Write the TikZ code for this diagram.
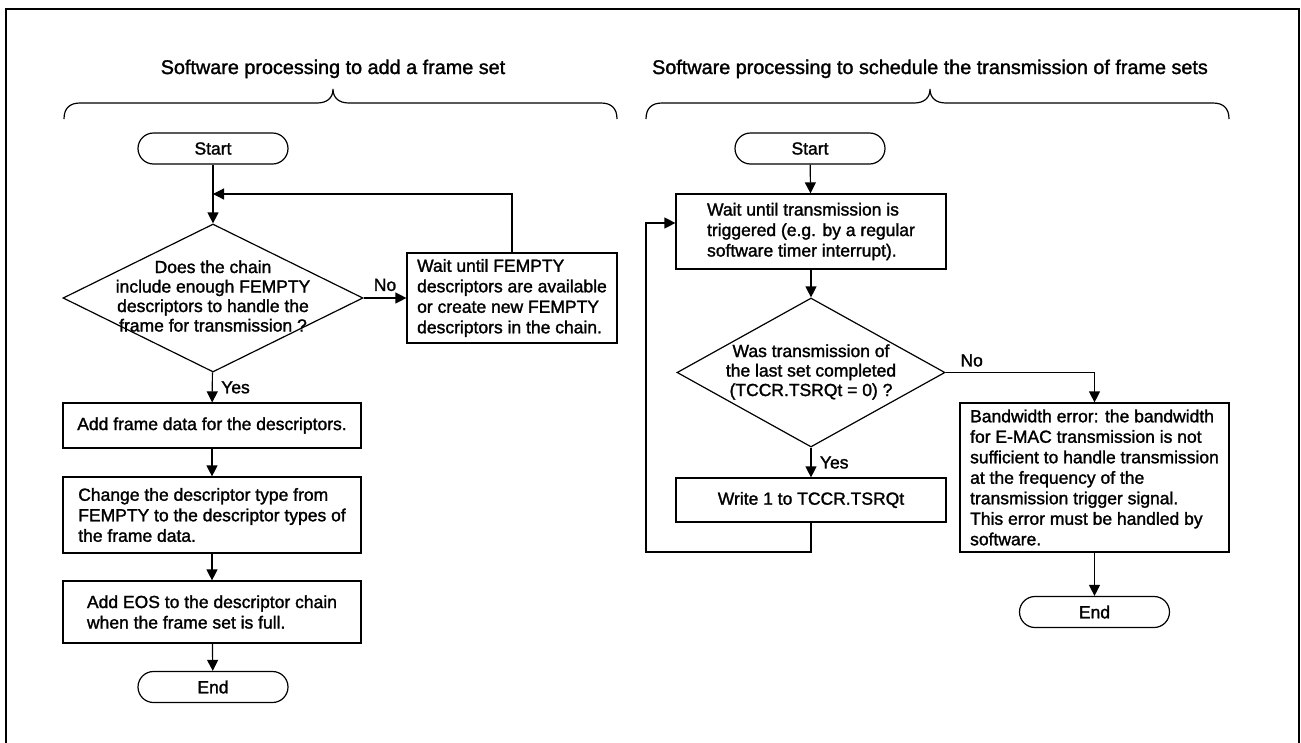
\documentclass[tikz,border=0pt]{standalone}
\usepackage{fontspec}
\setmainfont{Liberation Sans}[FakeBold=1.5]
\usetikzlibrary{arrows.meta,shapes.geometric}

\begin{document}
\begin{tikzpicture}[
    x=1pt, y=-1pt,
    font=\fontsize{17.5}{20.5}\selectfont,
    line width=1.2pt,
    arr/.style={-{Triangle[length=11pt,width=11pt]}},
    title/.style={font=\fontsize{19.8}{23}\selectfont, anchor=base},
    terminal/.style={draw, rectangle, rounded corners=15.5pt, minimum width=150pt, minimum height=31pt, inner sep=0pt},
    process/.style={draw, rectangle, align=left, inner sep=0pt},
    decision/.style={draw, diamond, inner sep=0pt},
    dectext/.style={align=center, inner sep=0pt, font=\fontsize{17.5}{19.5}\selectfont}
]
\useasboundingbox (0,0) rectangle (1301,742);

% outer frame, open at the bottom
\draw[line width=2.8pt] (6,750) -- (6,9) -- (1299,9) -- (1299,750);

% titles and braces
\node[title] (title1) at (333,74) {Software processing to add a frame set};
\node[title] (title2) at (930,74) {Software processing to schedule the transmission of frame sets};

\draw (64,119) .. controls (64,108) and (70,103) .. (80,103) -- (317,103)
    .. controls (327,103) and (333,98) .. (333,89)
    .. controls (333,98) and (339,103) .. (349,103) -- (601,103)
    .. controls (611,103) and (617,108) .. (617,119);
\draw (646,119) .. controls (646,108) and (652,103) .. (662,103) -- (914,103)
    .. controls (924,103) and (930,98) .. (930,89)
    .. controls (930,98) and (936,103) .. (946,103) -- (1213,103)
    .. controls (1223,103) and (1229,108) .. (1229,119);

% left flow: add a frame set
\node[terminal] (start1) at (213,148.5) {Start};
\node[decision, minimum width=300pt, minimum height=148pt] (dec1) at (213,298) {};
\node[dectext] (dec1txt) at (213,296) {Does the chain\\include enough FEMPTY\\descriptors to handle the\\frame for transmission ?};
\node[process, minimum width=210pt, minimum height=90pt] (wait1) at (512,298)
    {Wait until FEMPTY\\descriptors are available\\or create new FEMPTY\\descriptors in the chain.};
\node[process, minimum width=298pt, minimum height=45pt] (add1) at (212,425.5)
    {Add frame data for the descriptors.};
\node[process, minimum width=298pt, minimum height=76pt] (chg1) at (212,515)
    {Change the descriptor type from\\FEMPTY to the descriptor types of\\the frame data.};
\node[process, minimum width=298pt, minimum height=62pt] (eos1) at (212,612)
    {Add EOS to the descriptor chain\\when the frame set is full.};
\node[terminal] (end1) at (213,687) {End};
\coordinate (join1) at (213,194);

\draw (start1) -- (join1);
\draw[arr] (join1) -- (dec1);
\draw[arr] (wait1.north) |- (join1);
\draw[arr] (dec1) -- node[above=3pt] {No} (wait1);
\draw[arr] (dec1) -- node[right=5pt] {Yes} (add1);
\draw[arr] (add1) -- (chg1);
\draw[arr] (chg1) -- (eos1);
\draw[arr] (eos1) -- (end1);

% right flow: schedule the transmission
\node[terminal] (start2) at (810,148.5) {Start};
\node[process, minimum width=270pt, minimum height=75pt] (wait2) at (811,231.5)
    {Wait until transmission is\\triggered (e.g. by a regular\\software timer interrupt).};
\node[decision, minimum width=268pt, minimum height=149pt] (dec2) at (811,372.5) {};
\node[dectext] (dec2txt) at (811,372) {Was transmission of\\the last set completed\\(TCCR.TSRQt = 0) ?};
\node[process, minimum width=270pt, minimum height=44pt] (write2) at (811,500)
    {Write 1 to TCCR.TSRQt};
\node[process, minimum width=269pt, minimum height=149pt] (bw2) at (1094.5,477.5)
    {Bandwidth error: the bandwidth\\for E-MAC transmission is not\\sufficient to handle transmission\\at the frequency of the\\transmission trigger signal.\\This error must be handled by\\software.};
\node[terminal] (end2) at (1094.5,612) {End};
\coordinate (loop2) at (646,552);
\coordinate (loop2top) at (646,223);

\draw[arr] (start2) -- (wait2);
\draw[arr] (wait2) -- (dec2);
\draw[arr] (dec2) -- node[right=5pt] {Yes} (write2);
\draw[arr] (dec2.east) -| node[pos=0.03, above right=2pt] {No} (bw2.north);
\draw[arr] (write2.south) |- (loop2) -- (loop2top) -- (loop2top -| wait2.west);
\draw[arr] (bw2) -- (end2);

\end{tikzpicture}
\end{document}
